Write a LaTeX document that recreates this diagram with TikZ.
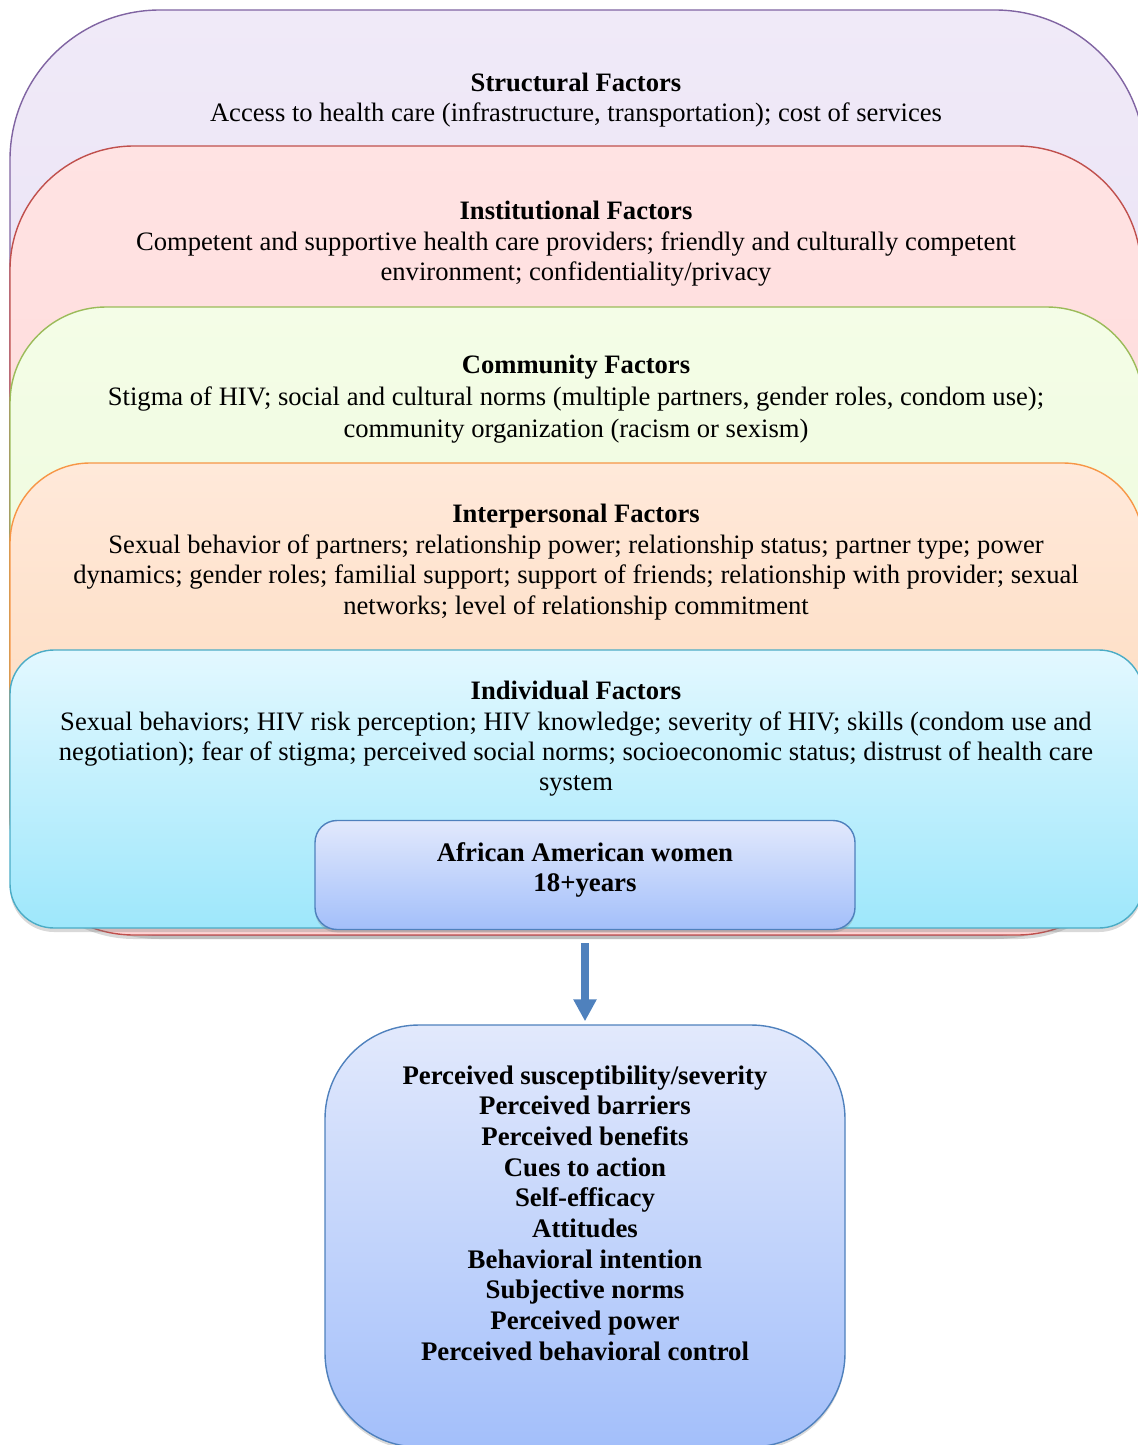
\documentclass[tikz,border=0pt]{standalone}
\usepackage{fontspec}
\setmainfont{Liberation Serif}
\usetikzlibrary{arrows.meta,shadows}

\definecolor{strucline}{HTML}{8064A2}
\definecolor{structop}{HTML}{F0EAF8}
\definecolor{strucbot}{HTML}{E2D9F1}
\definecolor{instline}{HTML}{C0504D}
\definecolor{insttop}{HTML}{FFE3E3}
\definecolor{instbot}{HTML}{FDD3D3}
\definecolor{commline}{HTML}{9BBB59}
\definecolor{commtop}{HTML}{F4FDE7}
\definecolor{commbot}{HTML}{EAF9D6}
\definecolor{interline}{HTML}{F79646}
\definecolor{intertop}{HTML}{FFE9DA}
\definecolor{interbot}{HTML}{FDD6B4}
\definecolor{indivline}{HTML}{4BACC6}
\definecolor{indivtop}{HTML}{E3F8FF}
\definecolor{indivbot}{HTML}{9EE7FB}
\definecolor{blueline}{HTML}{4F81BD}
\definecolor{bluetop}{HTML}{E2E9FC}
\definecolor{bluebot}{HTML}{A3BFFA}

\tikzset{
  layer/.style={line width=0.7pt,
    drop shadow={shadow xshift=0pt,shadow yshift=-2pt,opacity=0.3}},
  factor/.style={align=center, font=\fontsize{13.3}{15.2}\selectfont},
  groupbox/.style={draw=blueline, line width=0.7pt, top color=bluetop,
    bottom color=bluebot, rounded corners=11pt,
    drop shadow={shadow xshift=0pt,shadow yshift=-1.5pt,opacity=0.3}},
  groupfont/.style={align=center, font=\fontsize{13.4}{15.35}\selectfont\bfseries}
}

\begin{document}
\begin{tikzpicture}[x=0.5pt,y=-0.5pt]
  \useasboundingbox (0,0) rectangle (1138,1445);
  \clip (0,0) rectangle (1138,1445);

  % nested layers, outermost first
  \shade[layer, draw=strucline, top color=structop, bottom color=strucbot,
    rounded corners=75pt] (10,10) rectangle (1145,935);
  \shade[layer, draw=instline, top color=insttop, bottom color=instbot,
    rounded corners=62pt] (10,146) rectangle (1141,935);
  \shade[layer, draw=commline, top color=commtop, bottom color=commbot,
    rounded corners=48pt] (10,307) rectangle (1143,900);
  \shade[layer, draw=interline, top color=intertop, bottom color=interbot,
    rounded corners=40pt] (10,463) rectangle (1143,900);
  \shade[layer, draw=indivline, top color=indivtop, bottom color=indivbot,
    rounded corners=22pt] (10,650) rectangle (1143,928);

  \node[factor] (struc) at (576,100)
    {\textbf{Structural Factors}\\
     Access to health care (infrastructure, transportation); cost of services};
  \node[factor] (inst) at (576,244)
    {\textbf{Institutional Factors}\\
     Competent and supportive health care providers; friendly and culturally competent\\
     environment; confidentiality/privacy};
  \node[factor, font=\fontsize{13.3}{16}\selectfont] (comm) at (576,399)
    {\textbf{Community Factors}\\
     Stigma of HIV; social and cultural norms (multiple partners, gender roles, condom use);\\
     community organization (racism or sexism)};
  \node[factor] (inter) at (576,562)
    {\textbf{Interpersonal Factors}\\
     Sexual behavior of partners; relationship power; relationship status; partner type; power\\
     dynamics; gender roles; familial support; support of friends; relationship with provider; sexual\\
     networks; level of relationship commitment};
  \node[factor] (indiv) at (576,739)
    {\textbf{Individual Factors}\\
     Sexual behaviors; HIV risk perception; HIV knowledge; severity of HIV; skills (condom use and\\
     negotiation); fear of stigma; perceived social norms; socioeconomic status; distrust of health care\\
     system};

  % population box and constructs
  \node[groupbox, minimum width=270pt, minimum height=54.5pt] (women) at (585,875) {};
  \node[groupfont] (womentext) at (585,870) {African American women\\18+years};
  \node[groupbox, rounded corners=47pt, minimum width=260pt, minimum height=211pt]
    (constructs) at (585,1236) {};
  \node[groupfont] (constructstext) at (585,1213)
    {Perceived susceptibility/severity\\
     Perceived barriers\\
     Perceived benefits\\
     Cues to action\\
     Self-efficacy\\
     Attitudes\\
     Behavioral intention\\
     Subjective norms\\
     Perceived power\\
     Perceived behavioral control};

  \draw[blueline, line width=4pt, -{Triangle[width=11pt,length=11pt]},
    shorten <=6.5pt, shorten >=1.5pt] (women) -- (constructs);
\end{tikzpicture}
\end{document}
